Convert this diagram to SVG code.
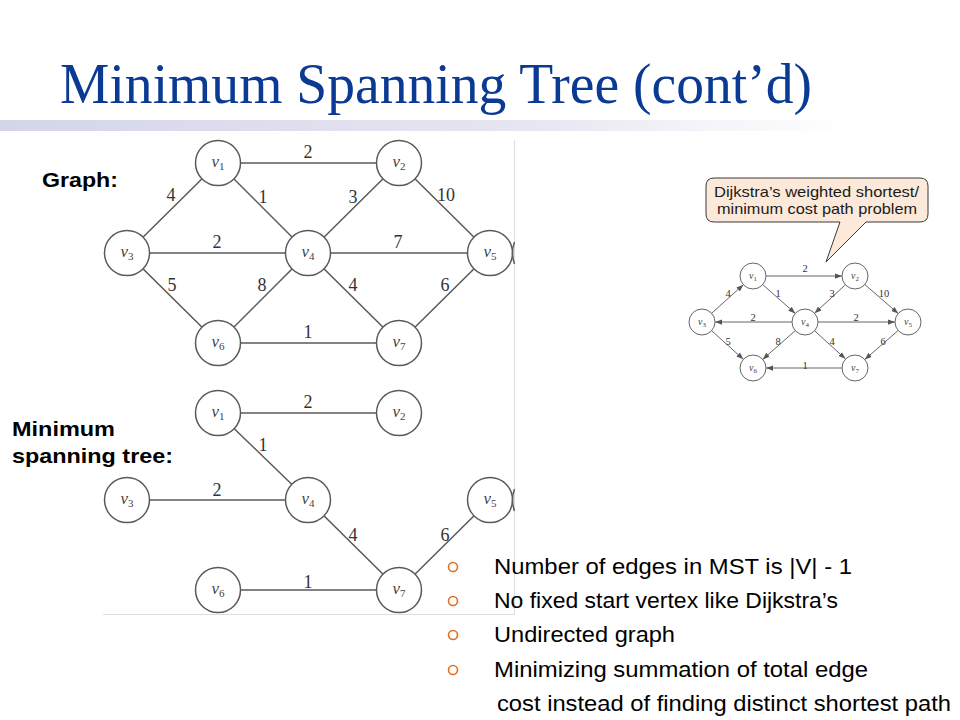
<svg xmlns="http://www.w3.org/2000/svg" width="960" height="720" viewBox="0 0 960 720">
<defs>
<linearGradient id="bar" x1="0" y1="0" x2="1" y2="0">
<stop offset="0" stop-color="#d5d5ea"/>
<stop offset="0.55" stop-color="#e6e6f2"/>
<stop offset="0.88" stop-color="#ffffff"/>
</linearGradient>
<marker id="arr" viewBox="0 0 8 6" refX="8" refY="3" markerWidth="7" markerHeight="5.5" markerUnits="userSpaceOnUse" orient="auto">
<path d="M0,0 L8,3 L0,6 z" fill="#555"/>
</marker>
<style>
.title{font-family:"Liberation Serif",serif;font-size:58px;fill:#0a3a94}
.lbl{font-family:"Liberation Sans",Arial,sans-serif;font-weight:bold;font-size:21px;fill:#000}
.bul{font-family:"Liberation Sans",Arial,sans-serif;font-size:22px;fill:#000}
.call{font-family:"Liberation Sans",Arial,sans-serif;font-size:15px;fill:#1a1a1a}
.e{stroke:#5a5a5a;stroke-width:1.5;fill:none}
.n{fill:#fff;stroke:#5a5a5a;stroke-width:1.5}
.nt{font-family:"Liberation Serif",serif;font-style:italic;font-size:17px;fill:#444;text-anchor:middle}
.sub{font-size:11px;font-style:normal}
.w{font-family:"Liberation Serif",serif;font-size:18px;fill:#333;text-anchor:middle}
.se{stroke:#666;stroke-width:1;fill:none;marker-end:url(#arr)}
.sn{fill:#fff;stroke:#666;stroke-width:1}
.snt{font-family:"Liberation Serif",serif;font-style:italic;font-size:10px;fill:#444;text-anchor:middle}
.ssub{font-size:7px;font-style:normal}
.sw{font-family:"Liberation Serif",serif;font-size:10.5px;fill:#333;text-anchor:middle}
.b{fill:none;stroke:#e07020;stroke-width:1.6}
.frame{stroke:#dddddd;stroke-width:1;fill:none}
</style>
</defs>
<rect width="960" height="720" fill="#fff"/>
<rect x="0" y="120" width="960" height="11" fill="url(#bar)"/>
<text class="title" x="60" y="103" textLength="752" lengthAdjust="spacingAndGlyphs">Minimum Spanning Tree (cont’d)</text>

<path class="frame" d="M514.5,140 V614.5 H103"/>

<text class="lbl" x="42" y="187" textLength="76" lengthAdjust="spacingAndGlyphs">Graph:</text>
<text class="lbl" x="12" y="436" textLength="103" lengthAdjust="spacingAndGlyphs">Minimum</text>
<text class="lbl" x="12" y="463" textLength="161" lengthAdjust="spacingAndGlyphs">spanning tree:</text>

<!-- main graph -->
<g id="graph-edges">
<line class="e" x1="218" y1="163" x2="399" y2="163"/>
<line class="e" x1="127" y1="253" x2="218" y2="163"/>
<line class="e" x1="218" y1="163" x2="308" y2="253"/>
<line class="e" x1="399" y1="163" x2="308" y2="253"/>
<line class="e" x1="399" y1="163" x2="490" y2="253"/>
<line class="e" x1="127" y1="253" x2="308" y2="253"/>
<line class="e" x1="308" y1="253" x2="490" y2="253"/>
<line class="e" x1="127" y1="253" x2="218" y2="343"/>
<line class="e" x1="308" y1="253" x2="218" y2="343"/>
<line class="e" x1="308" y1="253" x2="399" y2="343"/>
<line class="e" x1="490" y1="253" x2="399" y2="343"/>
<line class="e" x1="218" y1="343" x2="399" y2="343"/>
<text class="w" x="308" y="158">2</text>
<text class="w" x="171" y="201">4</text>
<text class="w" x="263" y="203">1</text>
<text class="w" x="353" y="203">3</text>
<text class="w" x="446" y="201">10</text>
<text class="w" x="217" y="248">2</text>
<text class="w" x="398" y="248">7</text>
<text class="w" x="172" y="291">5</text>
<text class="w" x="262" y="291">8</text>
<text class="w" x="353" y="291">4</text>
<text class="w" x="445" y="291">6</text>
<text class="w" x="308" y="338">1</text>
</g>
<g id="g-v1"><circle class="n" cx="218" cy="163" r="22.5"/><text class="nt" x="218" y="167">v<tspan class="sub" dy="3">1</tspan></text></g>
<g id="g-v2"><circle class="n" cx="399" cy="163" r="22.5"/><text class="nt" x="399" y="167">v<tspan class="sub" dy="3">2</tspan></text></g>
<g id="g-v3"><circle class="n" cx="127" cy="253" r="22.5"/><text class="nt" x="127" y="257">v<tspan class="sub" dy="3">3</tspan></text></g>
<g id="g-v4"><circle class="n" cx="308" cy="253" r="22.5"/><text class="nt" x="308" y="257">v<tspan class="sub" dy="3">4</tspan></text></g>
<g id="g-v5"><circle class="n" cx="490" cy="253" r="22.5"/><text class="nt" x="490" y="257">v<tspan class="sub" dy="3">5</tspan></text></g>
<g id="g-v6"><circle class="n" cx="218" cy="343" r="22.5"/><text class="nt" x="218" y="347">v<tspan class="sub" dy="3">6</tspan></text></g>
<g id="g-v7"><circle class="n" cx="399" cy="343" r="22.5"/><text class="nt" x="399" y="347">v<tspan class="sub" dy="3">7</tspan></text></g>
<path class="e" d="M514.5,242 Q510.5,253 514.5,264"/>

<!-- MST -->
<g id="mst-edges">
<line class="e" x1="218" y1="413" x2="399" y2="413"/>
<line class="e" x1="218" y1="413" x2="308" y2="500"/>
<line class="e" x1="127" y1="500" x2="308" y2="500"/>
<line class="e" x1="308" y1="500" x2="399" y2="590"/>
<line class="e" x1="490" y1="500" x2="399" y2="590"/>
<line class="e" x1="218" y1="590" x2="399" y2="590"/>
<text class="w" x="308" y="408">2</text>
<text class="w" x="263" y="451">1</text>
<text class="w" x="217" y="496">2</text>
<text class="w" x="353" y="541">4</text>
<text class="w" x="445" y="541">6</text>
<text class="w" x="308" y="588">1</text>
</g>
<g id="m-v1"><circle class="n" cx="218" cy="413" r="22.5"/><text class="nt" x="218" y="417">v<tspan class="sub" dy="3">1</tspan></text></g>
<g id="m-v2"><circle class="n" cx="399" cy="413" r="22.5"/><text class="nt" x="399" y="417">v<tspan class="sub" dy="3">2</tspan></text></g>
<g id="m-v3"><circle class="n" cx="127" cy="500" r="22.5"/><text class="nt" x="127" y="504">v<tspan class="sub" dy="3">3</tspan></text></g>
<g id="m-v4"><circle class="n" cx="308" cy="500" r="22.5"/><text class="nt" x="308" y="504">v<tspan class="sub" dy="3">4</tspan></text></g>
<g id="m-v5"><circle class="n" cx="490" cy="500" r="22.5"/><text class="nt" x="490" y="504">v<tspan class="sub" dy="3">5</tspan></text></g>
<g id="m-v6"><circle class="n" cx="218" cy="590" r="22.5"/><text class="nt" x="218" y="594">v<tspan class="sub" dy="3">6</tspan></text></g>
<g id="m-v7"><circle class="n" cx="399" cy="590" r="22.5"/><text class="nt" x="399" y="594">v<tspan class="sub" dy="3">7</tspan></text></g>
<path class="e" d="M514.5,489 Q510.5,500 514.5,511"/>

<!-- callout -->
<g id="callout">
<path d="M714,178 H920 Q928,178 928,186 V214 Q928,222 920,222 H866 L826,262 L840,222 H714 Q706,222 706,214 V186 Q706,178 714,178 Z" fill="#fde9d9" stroke="#3a3a3a" stroke-width="1"/>
<text class="call" x="714" y="197" textLength="205" lengthAdjust="spacingAndGlyphs">Dijkstra’s weighted shortest/</text>
<text class="call" x="717" y="214" textLength="200" lengthAdjust="spacingAndGlyphs">minimum cost path problem</text>
</g>

<!-- small directed graph -->
<g id="small-edges">
<line class="se" x1="766" y1="276" x2="842" y2="276"/>
<line class="se" x1="711.6" y1="313.3" x2="743.4" y2="284.7"/>
<line class="se" x1="762.7" y1="284.6" x2="795.3" y2="313.4"/>
<line class="se" x1="845.4" y1="284.8" x2="814.6" y2="313.2"/>
<line class="se" x1="864.8" y1="284.5" x2="898.2" y2="313.5"/>
<line class="se" x1="792" y1="322" x2="715" y2="322"/>
<line class="se" x1="818" y1="322" x2="895" y2="322"/>
<line class="se" x1="711.6" y1="330.7" x2="743.4" y2="359.3"/>
<line class="se" x1="795.3" y1="330.6" x2="762.7" y2="359.4"/>
<line class="se" x1="814.6" y1="330.8" x2="845.4" y2="358.8"/>
<line class="se" x1="898.2" y1="330.5" x2="864.8" y2="359.5"/>
<line class="se" x1="842" y1="368" x2="766" y2="368"/>
<text class="sw" x="805" y="272">2</text>
<text class="sw" x="728" y="297">4</text>
<text class="sw" x="778" y="297">1</text>
<text class="sw" x="832" y="297">3</text>
<text class="sw" x="884" y="297">10</text>
<text class="sw" x="753" y="321">2</text>
<text class="sw" x="856" y="321">2</text>
<text class="sw" x="728" y="345">5</text>
<text class="sw" x="778" y="345">8</text>
<text class="sw" x="832" y="345">4</text>
<text class="sw" x="883" y="345">6</text>
<text class="sw" x="805" y="369">1</text>
</g>
<g id="s-v1"><circle class="sn" cx="753" cy="276" r="13"/><text class="snt" x="753" y="279">v<tspan class="ssub" dy="2">1</tspan></text></g>
<g id="s-v2"><circle class="sn" cx="855" cy="276" r="13"/><text class="snt" x="855" y="279">v<tspan class="ssub" dy="2">2</tspan></text></g>
<g id="s-v3"><circle class="sn" cx="702" cy="322" r="13"/><text class="snt" x="702" y="325">v<tspan class="ssub" dy="2">3</tspan></text></g>
<g id="s-v4"><circle class="sn" cx="805" cy="322" r="13"/><text class="snt" x="805" y="325">v<tspan class="ssub" dy="2">4</tspan></text></g>
<g id="s-v5"><circle class="sn" cx="908" cy="322" r="13"/><text class="snt" x="908" y="325">v<tspan class="ssub" dy="2">5</tspan></text></g>
<g id="s-v6"><circle class="sn" cx="753" cy="368" r="13"/><text class="snt" x="753" y="371">v<tspan class="ssub" dy="2">6</tspan></text></g>
<g id="s-v7"><circle class="sn" cx="855" cy="368" r="13"/><text class="snt" x="855" y="371">v<tspan class="ssub" dy="2">7</tspan></text></g>

<!-- bullets -->
<g id="bullets">
<circle class="b" cx="453" cy="567" r="4.5"/>
<circle class="b" cx="453" cy="601" r="4.5"/>
<circle class="b" cx="453" cy="635" r="4.5"/>
<circle class="b" cx="453" cy="670" r="4.5"/>
<text class="bul" x="494" y="574" textLength="358" lengthAdjust="spacingAndGlyphs">Number of edges in MST is |V| - 1</text>
<text class="bul" x="494" y="608" textLength="344" lengthAdjust="spacingAndGlyphs">No fixed start vertex like Dijkstra’s</text>
<text class="bul" x="494" y="642" textLength="181" lengthAdjust="spacingAndGlyphs">Undirected graph</text>
<text class="bul" x="494" y="677" textLength="374" lengthAdjust="spacingAndGlyphs">Minimizing summation of total edge</text>
<text class="bul" x="497" y="711" textLength="454" lengthAdjust="spacingAndGlyphs">cost instead of finding distinct shortest path</text>
</g>
</svg>
